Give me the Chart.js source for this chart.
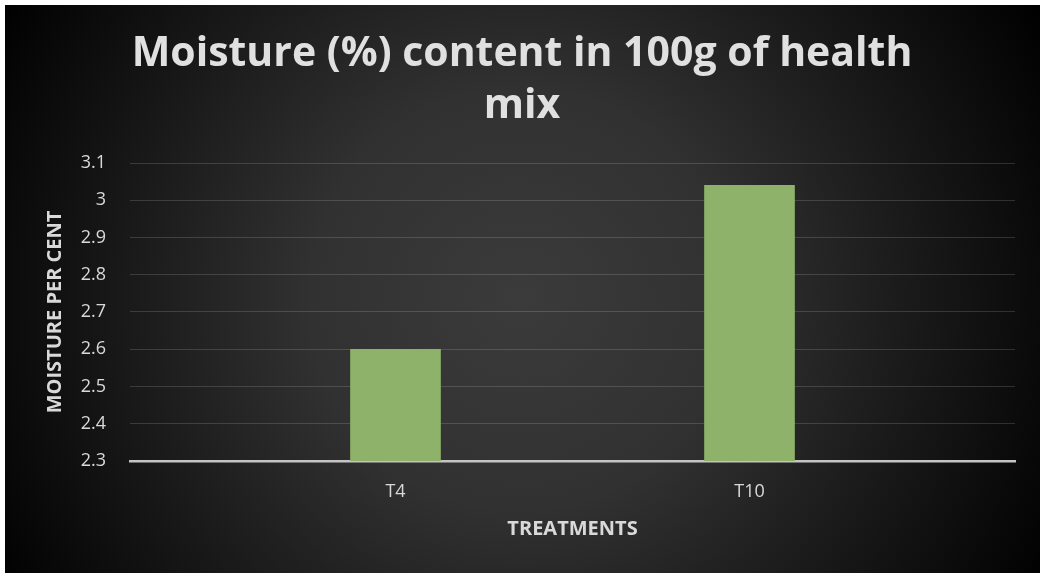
<!DOCTYPE html>
<html>
<head>
<meta charset="utf-8">
<script src="https://cdn.jsdelivr.net/npm/chart.js@4.4.1/dist/chart.umd.min.js"></script>
<style>
  html, body { margin:0; padding:0; background:#fff; }
  #wrap { width:1044px; height:577px; }
</style>
</head>
<body>
<div id="wrap"><canvas id="chart" width="1044" height="577"></canvas></div>
<script>
/* ---- data ---- */
const categories = ['T4', 'T10'];
const moisture = [2.6, 3.04];
const yTicks = [2.3, 2.4, 2.5, 2.6, 2.7, 2.8, 2.9, 3.0, 3.1];

const TXT = '#d9d9d9';
const FONT = '"Open Sans", Lato, sans-serif';

// background: white frame, dark radial fill
const bgPlugin = {
  id: 'bg',
  beforeDraw(chart) {
    const c = chart.ctx;
    c.save();
    c.fillStyle = '#fff';
    c.fillRect(0, 0, chart.width, chart.height);
    const g = c.createRadialGradient(520, 300, 0, 520, 300, 600);
    g.addColorStop(0, '#3b3b3b');
    g.addColorStop(0.35, '#313131');
    g.addColorStop(0.65, '#1a1a1a');
    g.addColorStop(1, '#000000');
    c.fillStyle = g;
    c.fillRect(5, 5, 1035, 568);
    c.restore();
  }
};

new Chart(document.getElementById('chart'), {
  type: 'bar',
  data: {
    datasets: [{
      data: categories.map((c, i) => ({ x: i + 1, y: moisture[i] })),
      backgroundColor: '#8fb26a',
      borderWidth: 0,
      barThickness: 90
    }]
  },
  plugins: [bgPlugin],
  options: {
    responsive: false,
    animation: false,
    layout: { padding: { left: 5, right: 5, top: 5, bottom: 4 } },
    plugins: {
      legend: { display: false },
      tooltip: { enabled: false },
      title: {
        display: true,
        text: ['Moisture (%) content in 100g of health', 'mix'],
        color: '#e0e0e0',
        font: { family: FONT, size: 41, weight: 'bold', lineHeight: 52 / 41 },
        padding: { top: 23, bottom: 31 }
      }
    },
    scales: {
      x: {
        type: 'linear',
        offset: false,
        min: 0.25,
        max: 2.75,
        afterBuildTicks: (s) => { s.ticks = categories.map((c, i) => ({ value: i + 1 })); },
        afterFit: (s) => { s.height = 112; },
        ticks: {
          color: TXT,
          padding: 20,
          font: { family: FONT, size: 18 },
          callback: (v) => categories[v - 1] || ''
        },
        grid: { display: false, drawTicks: false, offset: false },
        border: { display: true, color: '#c4c4c4', width: 2.5 },
        title: {
          display: true,
          text: 'TREATMENTS',
          color: TXT,
          font: { family: FONT, size: 20, weight: 'bold' },
          padding: { top: 32, bottom: 32 }
        }
      },
      y: {
        min: 2.3,
        max: 3.1,
        afterBuildTicks: (s) => { s.ticks = yTicks.map(v => ({ value: v })); },
        afterFit: (s) => { s.width = 125; },
        ticks: {
          color: TXT,
          padding: 24,
          font: { family: FONT, size: 18 },
          callback: (v) => String(+Number(v).toFixed(1))
        },
        grid: { color: 'rgba(255,255,255,0.15)', lineWidth: 1, drawTicks: false },
        border: { display: false },
        title: {
          display: true,
          text: 'MOISTURE PER CENT',
          color: TXT,
          font: { family: FONT, size: 20, weight: 'bold' },
          padding: { top: 38, bottom: 38 }
        }
      },
      // empty right-hand margin so the title centres like the original
      yRight: {
        position: 'right',
        display: true,
        afterFit: (s) => { s.width = 24; },
        ticks: { display: false },
        grid: { display: false, drawTicks: false },
        border: { display: false }
      }
    }
  }
});
</script>
</body>
</html>
